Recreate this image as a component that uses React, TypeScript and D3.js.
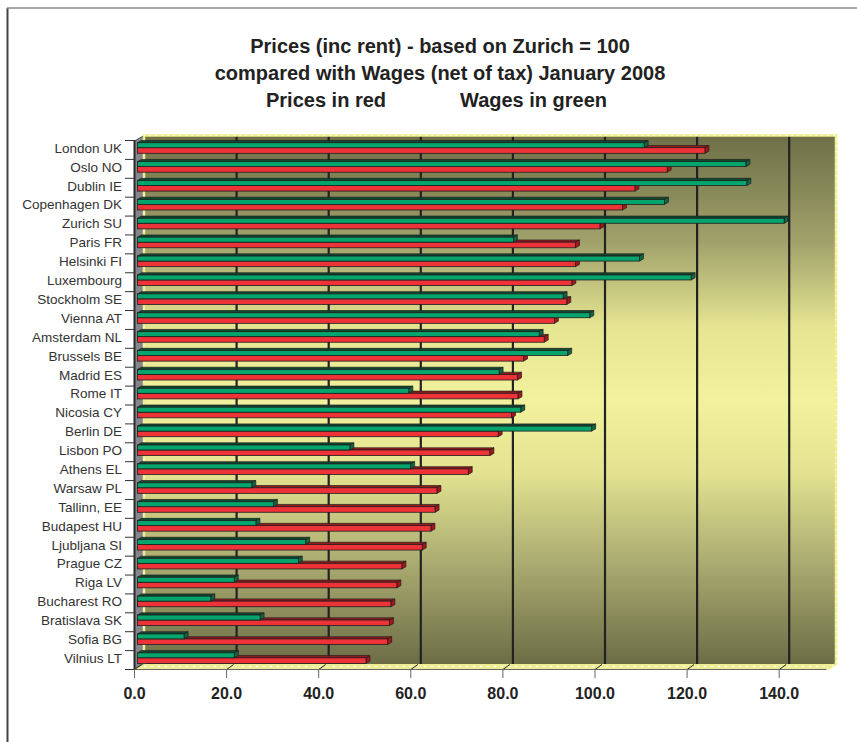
import React from "react";
import * as d3 from "d3";

const titleLines = [
  "Prices (inc rent) - based on Zurich = 100",
  "compared with Wages (net of tax) January 2008",
];
const legendRed = "Prices in red";
const legendGreen = "Wages in green";

const cities = [
  "London UK", "Oslo NO", "Dublin IE", "Copenhagen DK", "Zurich SU", "Paris FR",
  "Helsinki FI", "Luxembourg", "Stockholm SE", "Vienna AT", "Amsterdam NL",
  "Brussels BE", "Madrid ES", "Rome IT", "Nicosia CY", "Berlin DE", "Lisbon PO",
  "Athens EL", "Warsaw  PL", "Tallinn, EE", "Budapest HU ", "Ljubljana SI",
  "Prague CZ ", "Riga LV", "Bucharest RO", "Bratislava SK ", "Sofia BG", "Vilnius LT",
];

const wages = [
  109.8, 131.9, 132.1, 114.2, 140.2, 81.4, 108.8, 120.0, 92.2, 98.0, 87.0,
  93.2, 78.3, 58.7, 83.0, 98.4, 45.9, 59.1, 24.6, 29.3, 25.5, 36.3,
  34.7, 20.8, 15.7, 26.4, 9.9, 20.8,
];

const prices = [
  123.0, 114.8, 107.8, 105.1, 100.2, 94.9, 94.9, 94.1, 93.0, 90.3, 88.1,
  83.6, 82.3, 82.4, 81.0, 78.1, 76.3, 71.6, 64.8, 64.4, 63.5, 61.6,
  57.2, 56.1, 54.8, 54.5, 54.1, 49.4,
];

const xTicks = [0, 20, 40, 60, 80, 100, 120, 140];

export default function App() {
  const W = 857, H = 742;
  const x = d3.scaleLinear().domain([0, 140]).range([134.5, 779.2]);
  const y = d3.scaleBand<string>().domain(cities).range([140.5, 669.5]).padding(0);
  const band = y.bandwidth();

  // wall geometry (depth offset)
  const DX = 9.5, DY = 5.5;
  const frontLeft = x(0);
  const frontBottom = 669.5;
  const frontTop = 141;
  const backLeft = frontLeft + DX;
  const backRight = 836;
  const backTop = frontTop - DY;
  const backBottom = frontBottom - DY;
  const frontRight = backRight - DX;

  const bdx = 4, bdy = 2.2;
  const box = (x0: number, x1: number, yy: number, h: number, front: string, top: string, side: string, key: string) => (
    <g key={key}>
      <polygon
        points={`${x0},${yy} ${x1},${yy} ${x1 + bdx},${yy - bdy} ${x0 + bdx},${yy - bdy}`}
        fill={top} stroke="#1e1e1e" strokeWidth={0.7} strokeLinejoin="round"
      />
      <polygon
        points={`${x1},${yy} ${x1 + bdx},${yy - bdy} ${x1 + bdx},${yy + h - bdy} ${x1},${yy + h}`}
        fill={side} stroke="#1e1e1e" strokeWidth={0.7} strokeLinejoin="round"
      />
      <rect x={x0} y={yy} width={x1 - x0} height={h} fill={front} stroke="#1e1e1e" strokeWidth={0.8} />
    </g>
  );

  return (
    <svg width={W} height={H} style={{ position: "absolute", left: 0, top: 0, background: "#fff" }}
      fontFamily="'Liberation Sans', Arial, sans-serif">
      <defs>
        <linearGradient id="wallGrad" x1="0" y1="0" x2="0" y2="1">
          <stop offset="0" stopColor="#6e6f47" />
          <stop offset="0.2" stopColor="#a0a16a" />
          <stop offset="0.36" stopColor="#e4e491" />
          <stop offset="0.5" stopColor="#f2f29e" />
          <stop offset="0.64" stopColor="#e2e290" />
          <stop offset="0.8" stopColor="#adae72" />
          <stop offset="1" stopColor="#6c6d46" />
        </linearGradient>
      </defs>

      {/* outer frame */}
      <line x1={7.5} y1={8} x2={7.5} y2={H} stroke="#444" strokeWidth={2} />
      <line x1={7} y1={8} x2={W} y2={8} stroke="#8a8a8a" strokeWidth={1.5} />

      {/* title */}
      <g fontWeight="bold" fontSize={20} fill="#222" textAnchor="middle">
        {titleLines.map((t, i) => (
          <text key={t} x={440} y={53 + i * 27}>{t}</text>
        ))}
        <text x={266} y={107} textAnchor="start">{legendRed}</text>
        <text x={460} y={107} textAnchor="start">{legendGreen}</text>
      </g>

      {/* back wall */}
      <rect x={backLeft} y={backTop} width={backRight - backLeft} height={backBottom - backTop} fill="url(#wallGrad)" />
      {/* left side wall */}
      <polygon
        points={`${frontLeft},${frontTop} ${backLeft},${backTop} ${backLeft},${backBottom} ${frontLeft},${frontBottom}`}
        fill="#85858c" stroke="#333" strokeWidth={0.8}
      />
      {/* floor */}
      <polygon
        points={`${frontLeft},${frontBottom} ${backLeft},${backBottom} ${backRight},${backBottom} ${frontRight},${frontBottom}`}
        fill="#eeee96"
      />
      <line x1={backLeft} y1={backBottom + 2.5} x2={backRight - 3} y2={backBottom + 2.5}
        stroke="#fff" strokeWidth={1.2} strokeDasharray="2 5" />

      {/* gridlines on back wall */}
      {xTicks.filter((v) => v > 0).map((v) => (
        <line key={`g${v}`} x1={x(v) + 10} x2={x(v) + 10} y1={backTop} y2={backBottom}
          stroke="#222" strokeWidth={2.2} />
      ))}

      {/* dashed border of back wall */}
      <polyline
        points={`${backLeft},${backBottom} ${backLeft},${backTop} ${backRight},${backTop} ${backRight},${backBottom} ${frontRight},${frontBottom}`}
        fill="none" stroke="#eeee8a" strokeWidth={2.5}
      />
      <polyline
        points={`${backLeft},${backBottom} ${backLeft},${backTop} ${backRight},${backTop} ${backRight},${backBottom} ${frontRight},${frontBottom}`}
        fill="none" stroke="#ffffff" strokeWidth={1.2} strokeDasharray="1.5 4.5"
      />

      {/* floor tick marks */}
      {xTicks.map((v) => (
        <line key={`f${v}`} x1={x(v)} y1={frontBottom} x2={x(v) + 7} y2={backBottom + 0.5}
          stroke="#222" strokeWidth={1} />
      ))}

      {/* bars */}
      {cities.map((c, i) => {
        const top = y(c)!;
        const x0 = x(0) + 3;
        return (
          <g key={c}>
            {box(x0, x(prices[i]) + 4, top + 7.2, 5.6, "#ee3338", "#9c1a1e", "#a8141c", "r")}
            {box(x0, x(wages[i]) + 4, top + 2.2, 5.0, "#04a56c", "#0e4b31", "#0d6644", "g")}
          </g>
        );
      })}

      {/* left axis line and category ticks */}
      <line x1={frontLeft} x2={frontLeft} y1={frontTop - 1} y2={frontBottom} stroke="#2a2a2a" strokeWidth={2} />
      {d3.range(cities.length + 1).map((i) => {
        const yy = 140.5 + i * band;
        return <line key={`t${i}`} x1={125} x2={frontLeft} y1={yy} y2={yy} stroke="#333" strokeWidth={1} />;
      })}

      {/* front bottom axis */}
      <line x1={frontLeft} x2={frontRight} y1={frontBottom} y2={frontBottom} stroke="#666" strokeWidth={1.2} />
      {xTicks.map((v) => (
        <line key={`xt${v}`} x1={x(v)} x2={x(v)} y1={frontBottom} y2={678} stroke="#666" strokeWidth={1} />
      ))}

      {/* category labels */}
      <g fontSize={13.5} fill="#333" textAnchor="end" style={{ whiteSpace: "pre" }}>
        {cities.map((c) => (
          <text key={c} x={122} y={y(c)! + 12.3}>{c}</text>
        ))}
      </g>

      {/* x labels */}
      <g fontSize={16} fontWeight="bold" fill="#222" textAnchor="middle">
        {xTicks.map((v) => (
          <text key={`xl${v}`} x={x(v)} y={699}>{v.toFixed(1)}</text>
        ))}
      </g>
    </svg>
  );
}
